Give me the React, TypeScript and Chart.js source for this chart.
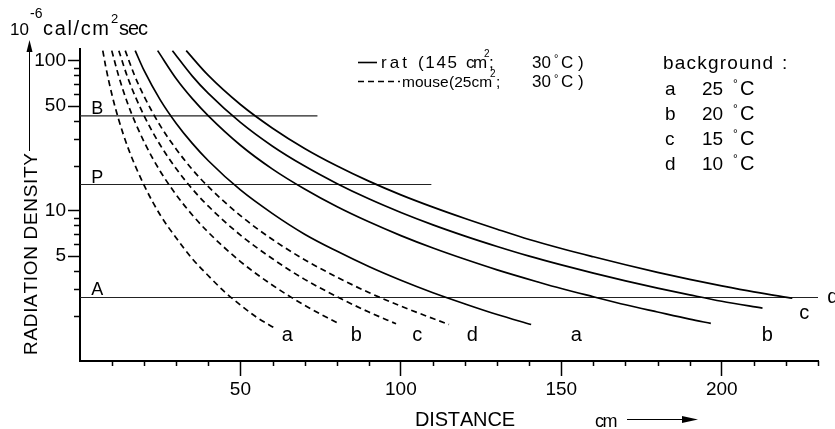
import React, { useEffect, useRef } from 'react';
import { Chart, registerables } from 'chart.js';

Chart.register(...registerables);

// ---- data (distance in cm, radiation density in 10^-6 cal/cm^2 sec) ----
const ratA_dist = [17.2, 20, 25, 30, 35, 40, 50, 60, 70, 80, 90, 100, 110, 120, 130, 140.6];
const ratA_dens = [117, 86, 55, 38.3, 28.2, 21.6, 13.8, 9.6, 7.0, 5.4, 4.26, 3.45, 2.85, 2.4, 2.04, 1.75];

const ratB_dist = [24.2, 30, 35, 40, 50, 60, 70, 80, 90, 100, 110, 120, 130, 143, 150, 160, 170, 180, 190, 196.6];
const ratB_dens = [117, 76, 56, 43, 27.4, 19, 14, 10.7, 8.46, 6.85, 5.66, 4.76, 4.05, 3.35, 3.04, 2.68, 2.37, 2.12, 1.9, 1.78];

const ratC_dist = [28.8, 35, 40, 50, 60, 70, 80, 90, 100, 110, 120, 130, 140, 150, 160, 170, 180, 190, 200, 212.7];
const ratC_dens = [117, 79.2, 60.7, 38.9, 27.0, 19.9, 15.25, 12.05, 9.77, 8.08, 6.8, 5.8, 5.0, 4.37, 3.85, 3.42, 3.06, 2.76, 2.5, 2.25];

const ratD_dist = [33.1, 40, 50, 60, 70, 80, 90, 100, 110, 120, 130, 140, 150, 160, 170, 180, 190, 200, 210, 222];
const ratD_dens = [117, 80, 51.2, 35.6, 26.1, 20, 15.8, 12.8, 10.6, 8.9, 7.55, 6.45, 5.62, 4.95, 4.38, 3.9, 3.5, 3.17, 2.89, 2.62];

const mouseA_dist = [7.1, 8, 10, 12, 15, 20, 25, 30, 35, 40, 45, 50, 55, 60.6];
const mouseA_dens = [117, 92, 59, 41, 26.2, 14.8, 9.4, 6.6, 4.8, 3.7, 2.9, 2.36, 1.96, 1.66];

const mouseB_dist = [9.9, 12, 15, 20, 25, 30, 35, 40, 50, 60, 70, 80.7];
const mouseB_dens = [117, 80, 51, 28.8, 18.4, 12.8, 9.4, 7.2, 4.6, 3.2, 2.35, 1.77];

const mouseC_dist = [12.1, 15, 20, 25, 30, 35, 40, 50, 60, 70, 80, 90, 98.5];
const mouseC_dens = [117, 76, 43, 27.5, 19.1, 14.0, 10.75, 6.9, 4.8, 3.5, 2.69, 2.12, 1.77];

const mouseD_dist = [14.1, 17, 20, 25, 30, 35, 40, 50, 60, 70, 80, 90, 100, 115];
const mouseD_dens = [117, 80, 58, 37, 25.8, 18.9, 14.5, 9.3, 6.45, 4.73, 3.63, 2.86, 2.32, 1.75];

const refNames = ['B', 'P', 'A'];
const refLevels = [43, 15, 2.65];
const refEnds = [74, 109.5, 230];

const xMajorTicks = [50, 100, 150, 200];
const xMinorTicks = [10, 20, 30, 40, 60, 70, 80, 90, 110, 120, 130, 140, 160, 170, 180, 190, 210, 220, 230];
const yMajorTicks = [5, 10, 50, 100];
const yMinorTicks = [2, 3, 4, 6, 7, 8, 9, 20, 30, 40, 60, 70, 80, 90];

const bgLetters = ['a', 'b', 'c', 'd'];
const bgTemps = ['25', '20', '15', '10'];

const FONT = '"Liberation Sans", Arial, Helvetica, sans-serif';

function pts(xs: number[], ys: number[]) {
  return xs.map((x, i) => ({ x, y: ys[i] }));
}

function fitText(ctx: CanvasRenderingContext2D, text: string, x: number, y: number, width: number, font: string) {
  ctx.font = font;
  const chars = Array.from(text);
  const ws = chars.map((c) => ctx.measureText(c).width);
  const total = ws.reduce((a, b) => a + b, 0);
  let gap = chars.length > 1 ? (width - total) / (chars.length - 1) : 0;
  if (gap < -1.5) gap = -1.5;
  let cx = x;
  chars.forEach((c, i) => {
    ctx.fillText(c, cx, y);
    cx += ws[i] + gap;
  });
}

function txt(ctx: CanvasRenderingContext2D, text: string, x: number, y: number, font: string) {
  ctx.font = font;
  ctx.fillText(text, x, y);
}

const decorPlugin = {
  id: 'decor',
  afterDraw(chart: any) {
    const ctx: CanvasRenderingContext2D = chart.ctx;
    const xs = chart.scales.x;
    const ys = chart.scales.y;
    const { left, bottom } = chart.chartArea;
    ctx.save();
    ctx.fillStyle = '#000';
    ctx.strokeStyle = '#000';
    ctx.textAlign = 'left';
    ctx.textBaseline = 'alphabetic';

    // minor ticks
    ctx.lineWidth = 1.5;
    ctx.beginPath();
    xMinorTicks.forEach((v) => {
      const px = Math.round(xs.getPixelForValue(v)) + 0.5;
      ctx.moveTo(px, bottom);
      ctx.lineTo(px, bottom + 5);
    });
    yMinorTicks.forEach((v) => {
      const py = Math.round(ys.getPixelForValue(v)) + 0.5;
      ctx.moveTo(left - 6, py);
      ctx.lineTo(left, py);
    });
    ctx.stroke();

    // reference line labels
    refNames.forEach((n, i) => {
      txt(ctx, n, xs.getPixelForValue(3.5), ys.getPixelForValue(refLevels[i]) - 2, `18px ${FONT}`);
    });

    // curve end letters
    ctx.textAlign = 'center';
    ctx.font = `20px ${FONT}`;
    const endLabels: [string, number, number][] = [
      ['a', 64.6, 1.35], ['b', 86.1, 1.35], ['c', 105.1, 1.35], ['d', 122.3, 1.35],
      ['a', 154.7, 1.35], ['b', 214.2, 1.35], ['c', 225.7, 1.9],
    ];
    endLabels.forEach(([t, x, y]) => ctx.fillText(t, xs.getPixelForValue(x), ys.getPixelForValue(y)));
    ctx.textAlign = 'left';
    ctx.fillText('d', xs.getPixelForValue(232.9), ys.getPixelForValue(2.44));

    // legend (species)
    ctx.lineWidth = 1.6;
    ctx.beginPath();
    ctx.moveTo(358, 62.5);
    ctx.lineTo(377, 62.5);
    ctx.stroke();
    ctx.setLineDash([6, 4]);
    ctx.beginPath();
    ctx.moveTo(358, 81.5);
    ctx.lineTo(400, 81.5);
    ctx.stroke();
    ctx.setLineDash([]);

    const lf = `17px ${FONT}`;
    fitText(ctx, 'rat', 381, 67.5, 26, lf);
    fitText(ctx, '(145', 418, 67.5, 39, lf);
    fitText(ctx, 'cm', 466, 67.5, 18, lf);
    txt(ctx, '2', 484, 57, `10px ${FONT}`);
    txt(ctx, ';', 489, 67.5, lf);
    txt(ctx, '30', 532, 67.5, lf);
    txt(ctx, '°', 554, 62, `11px ${FONT}`);
    txt(ctx, 'C', 561, 67.5, lf);
    txt(ctx, ')', 578, 67.5, lf);

    const mf = `15.5px ${FONT}`;
    txt(ctx, 'mouse', 402, 87.3, mf);
    txt(ctx, '(25cm', 449, 87.3, mf);
    txt(ctx, '2', 490, 77, `10px ${FONT}`);
    txt(ctx, ';', 496, 87.3, mf);
    txt(ctx, '30', 532, 87.3, lf);
    txt(ctx, '°', 554, 82, `11px ${FONT}`);
    txt(ctx, 'C', 561, 87.3, lf);
    txt(ctx, ')', 578, 87.3, lf);

    // legend (background)
    fitText(ctx, 'background', 663, 69, 110, `19px ${FONT}`);
    txt(ctx, ':', 782, 69, `19px ${FONT}`);
    bgLetters.forEach((l, i) => {
      const by = 95 + i * 25;
      txt(ctx, l, 665, by, `19px ${FONT}`);
      fitText(ctx, bgTemps[i], 702, by, 21, `19px ${FONT}`);
      txt(ctx, '°', 733, by - 7, `12px ${FONT}`);
      txt(ctx, 'C', 740, by, `20px ${FONT}`);
    });

    // top-left unit
    txt(ctx, '10', 10, 35, `17px ${FONT}`);
    txt(ctx, '-6', 30, 18, `14px ${FONT}`);
    fitText(ctx, 'cal/cm', 43, 35, 66, `20px ${FONT}`);
    txt(ctx, '2', 111, 23, `13px ${FONT}`);
    fitText(ctx, 'sec', 119, 35, 29, `20px ${FONT}`);

    // y-axis title + arrow
    ctx.save();
    ctx.translate(37, 355);
    ctx.rotate(-Math.PI / 2);
    fitText(ctx, 'RADIATION DENSITY', 0, 0, 202, `19px ${FONT}`);
    ctx.restore();
    ctx.lineWidth = 1;
    ctx.beginPath();
    ctx.moveTo(29.5, 151);
    ctx.lineTo(29.5, 48);
    ctx.stroke();
    ctx.beginPath();
    ctx.moveTo(29.5, 40);
    ctx.lineTo(26.5, 52);
    ctx.lineTo(32.5, 52);
    ctx.closePath();
    ctx.fill();

    // x-axis title + arrow
    fitText(ctx, 'DISTANCE', 415, 426, 100, `20px ${FONT}`);
    fitText(ctx, 'cm', 595, 427, 22, `18px ${FONT}`);
    ctx.lineWidth = 1;
    ctx.beginPath();
    ctx.moveTo(627, 419.5);
    ctx.lineTo(686, 419.5);
    ctx.stroke();
    ctx.beginPath();
    ctx.moveTo(698, 419.5);
    ctx.lineTo(682, 416);
    ctx.lineTo(682, 423);
    ctx.closePath();
    ctx.fill();

    ctx.restore();
  },
};

export default function App() {
  const ref = useRef<HTMLCanvasElement>(null);

  useEffect(() => {
    document.body.style.margin = '0';
    const canvas = ref.current!;
    const curve = (xs: number[], ys: number[], dashed: boolean) => ({
      data: pts(xs, ys),
      borderColor: '#000',
      borderWidth: 1.7,
      borderDash: dashed ? [6, 4] : [],
      pointRadius: 0,
      cubicInterpolationMode: 'monotone',
      fill: false,
    });
    const refSets = refLevels.map((lv, i) => ({
      data: [{ x: 0, y: lv }, { x: refEnds[i], y: lv }],
      borderColor: '#222',
      borderWidth: 1.1,
      pointRadius: 0,
      fill: false,
    }));
    const chart = new Chart(canvas, {
      type: 'line',
      data: {
        datasets: [
          curve(ratA_dist, ratA_dens, false),
          curve(ratB_dist, ratB_dens, false),
          curve(ratC_dist, ratC_dens, false),
          curve(ratD_dist, ratD_dens, false),
          curve(mouseA_dist, mouseA_dens, true),
          curve(mouseB_dist, mouseB_dens, true),
          curve(mouseC_dist, mouseC_dens, true),
          curve(mouseD_dist, mouseD_dens, true),
          ...refSets,
        ] as any,
      },
      options: {
        animation: false,
        responsive: false,
        maintainAspectRatio: false,
        events: [],
        layout: { padding: { top: 49, right: 17, left: 0, bottom: 0 } },
        plugins: { legend: { display: false }, tooltip: { enabled: false } },
        scales: {
          x: {
            type: 'linear',
            min: 0,
            max: 230,
            grid: { drawOnChartArea: false, tickLength: 15, tickColor: '#000', tickWidth: 1.5 },
            border: { display: true, color: '#000', width: 2 },
            ticks: {
              font: { family: FONT, size: 19 },
              color: '#000',
              padding: 2,
              autoSkip: false,
              maxRotation: 0,
              callback: (v: any) => String(v),
            },
            afterBuildTicks: (s: any) => {
              s.ticks = xMajorTicks.map((v) => ({ value: v }));
            },
            afterFit: (s: any) => {
              s.height = 68;
            },
          },
          y: {
            type: 'logarithmic',
            min: 1,
            max: 120,
            grid: { drawOnChartArea: false, tickLength: 12, tickColor: '#000', tickWidth: 1.5 },
            border: { display: true, color: '#000', width: 2 },
            ticks: {
              font: { family: FONT, size: 19 },
              color: '#000',
              padding: 2,
              autoSkip: false,
              callback: (v: any) => String(v),
            },
            afterBuildTicks: (s: any) => {
              s.ticks = yMajorTicks.map((v) => ({ value: v }));
            },
            afterFit: (s: any) => {
              s.width = 80;
            },
          },
        },
      } as any,
      plugins: [decorPlugin],
    });
    return () => chart.destroy();
  }, []);

  return (
    <div style={{ position: 'absolute', left: 0, top: 0, width: 835, height: 429, background: '#fff' }}>
      <canvas ref={ref} width={835} height={429} style={{ width: 835, height: 429, display: 'block' }} />
    </div>
  );
}
